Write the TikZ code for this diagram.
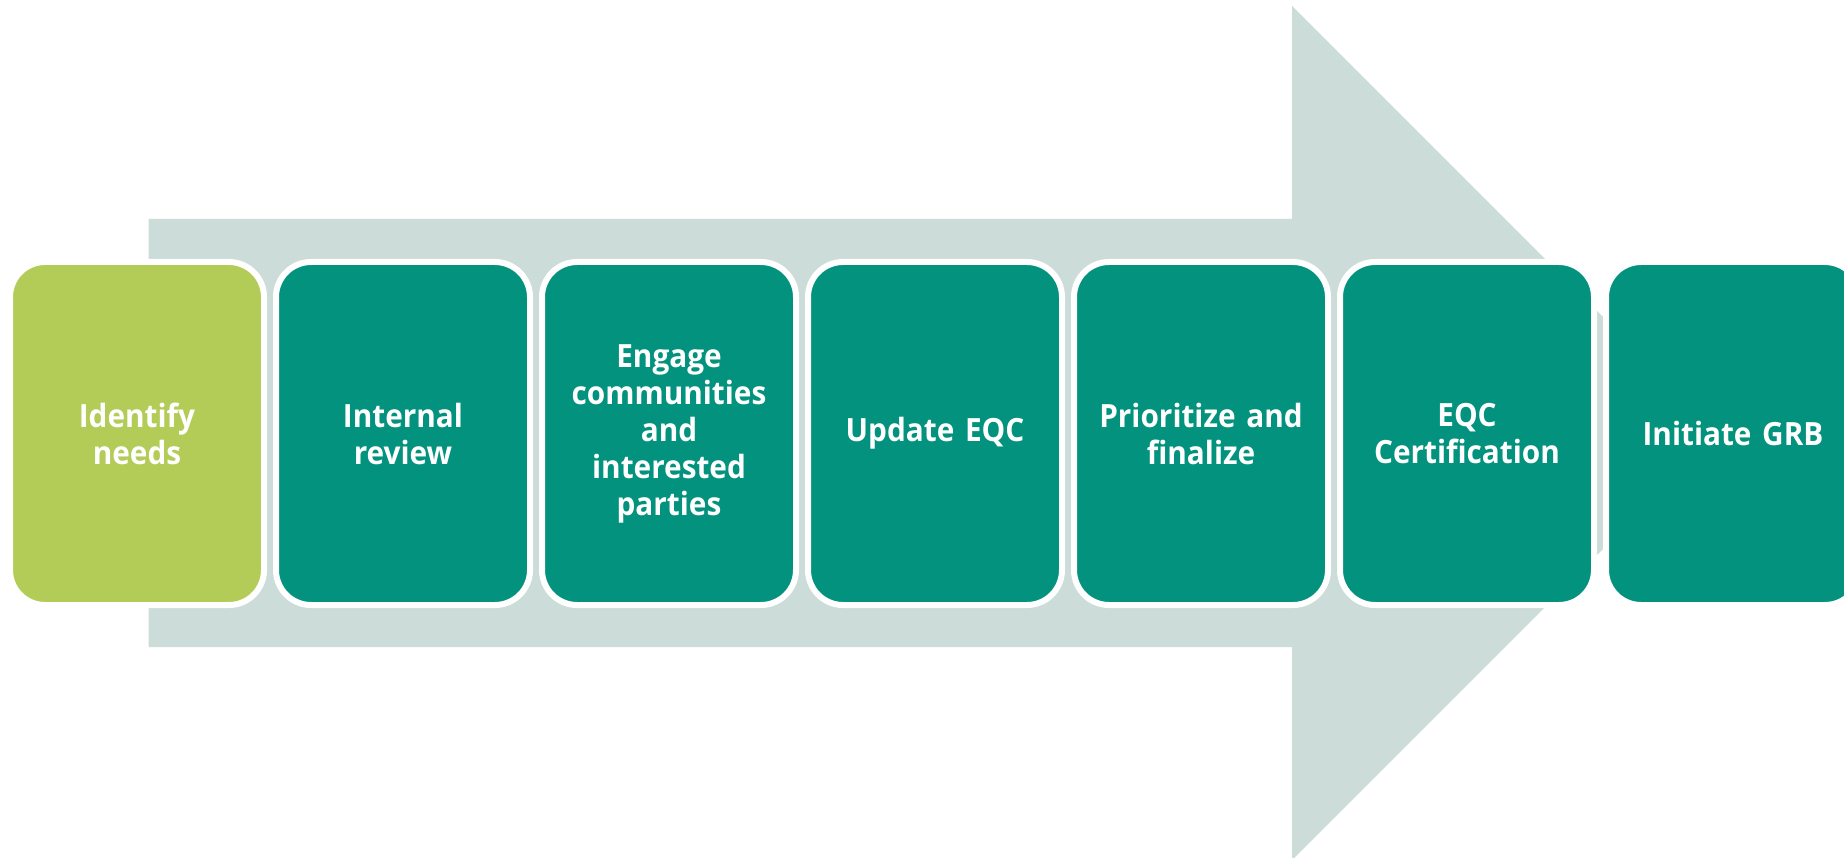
\documentclass[tikz,border=0pt]{standalone}
\usepackage{fontspec}
\setmainfont{Open Sans}[FakeStretch=0.93]
\definecolor{teal}{RGB}{2,146,126}
\definecolor{lime}{RGB}{179,203,87}
\definecolor{arrowgray}{RGB}{204,220,216}
\tikzset{
  stepbox/.style={draw=white, line width=6pt, rounded corners=35pt,
    minimum width=254pt, minimum height=343pt, inner sep=0pt,
    text width=236pt, align=center, text=white,
    font=\fontsize{32}{37}\selectfont\bfseries},
  tealbox/.style={stepbox, fill=teal},
  limebox/.style={stepbox, fill=lime}
}
\begin{document}
\begin{tikzpicture}[x=1pt,y=-1pt]
\useasboundingbox (0,0) rectangle (1844,858);
\clip (0,0) rectangle (1844,858);
\fill[white] (0,0) rectangle (1844,858);
% big background arrow
\fill[arrowgray] (148.5,219) -- (1292,219) -- (1292,6) -- (1719,433)
  -- (1292,860) -- (1292,647) -- (148.5,647) -- cycle;
% steps
\node[limebox] (b1) at (137,433.5) {Identify\\needs};
\node[tealbox] (b2) at (403,433.5) {Internal\\review};
\node[tealbox] (b3) at (669,433.5) {Engage\\communities\\and\\interested\\parties};
\node[tealbox] (b4) at (935,433.5) {Update EQC};
\node[tealbox] (b5) at (1201,433.5) {Prioritize and\\finalize};
\node[tealbox] (b6) at (1467,433.5) {EQC\\Certification};
\node[tealbox] (b7) at (1733,433.5) {Initiate GRB};
\end{tikzpicture}
\end{document}
